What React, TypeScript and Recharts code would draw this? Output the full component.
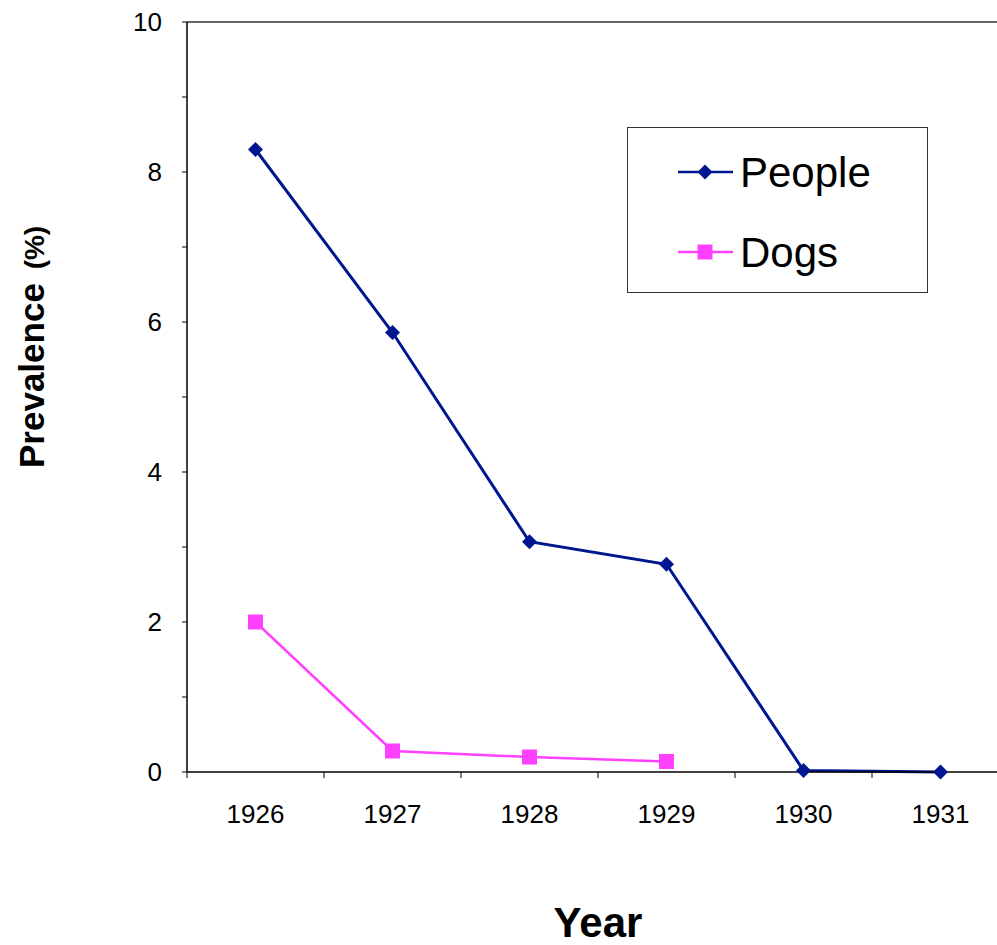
import React from 'react';
import { LineChart, Line, XAxis, YAxis, Legend, ReferenceLine } from 'recharts';

const years = ['1926', '1927', '1928', '1929', '1930', '1931'];
const people = [8.3, 5.86, 3.07, 2.77, 0.02, 0.0];
const dogs: (number | null)[] = [2.0, 0.28, 0.2, 0.14, null, null];
const yTicks = [0, 1, 2, 3, 4, 5, 6, 7, 8, 9, 10];

const NAVY = '#001590';
const PINK = '#ff40ff';

const data = years.map((year, i) => ({
  x: i + 0.5,
  year,
  people: people[i],
  dogs: dogs[i],
}));

const bounds = years.map((_, i) => i).concat([years.length]);
const centers = years.map((_, i) => i + 0.5);

const Diamond = (props: any) => {
  const { cx, cy, fill } = props;
  if (cx == null || cy == null || props.value == null) return null;
  const r = 7.5;
  return <path d={`M${cx},${cy - r}L${cx + r},${cy}L${cx},${cy + r}L${cx - r},${cy}Z`} fill={fill} />;
};

const Square = (props: any) => {
  const { cx, cy, fill } = props;
  if (cx == null || cy == null || props.value == null) return null;
  return <rect x={cx - 7.5} y={cy - 7.5} width={15} height={15} fill={fill} />;
};

const LegendBox = () => (
  <svg width={301} height={166} style={{ display: 'block' }}>
    <rect x={0.5} y={0.5} width={300} height={165} fill="#fff" stroke="#333" />
    <line x1={51} x2={106} y1={45} y2={45} stroke={NAVY} strokeWidth={2.5} />
    <Diamond cx={78} cy={45} fill={NAVY} value={1} />
    <text x={113} y={60} fontSize={42} fontFamily="Liberation Sans, Arial, sans-serif" fill="#000">People</text>
    <line x1={51} x2={106} y1={125} y2={125} stroke={PINK} strokeWidth={2.5} />
    <Square cx={78} cy={125} fill={PINK} value={1} />
    <text x={113} y={140} fontSize={42} fontFamily="Liberation Sans, Arial, sans-serif" fill="#000">Dogs</text>
  </svg>
);

export default function App() {
  const font = 'Liberation Sans, Arial, sans-serif';
  return (
    <div style={{ position: 'absolute', left: 0, top: 0, width: 997, height: 945, overflow: 'hidden', background: '#fff' }}>
      <LineChart width={1015} height={945} data={data} margin={{ top: 22, right: 6, left: 0, bottom: 107 }}>
        <XAxis
          xAxisId="a"
          type="number"
          dataKey="x"
          domain={[0, years.length]}
          ticks={bounds}
          tickFormatter={() => ''}
          tickSize={6}
          height={6}
          axisLine={{ stroke: '#000', strokeWidth: 1.5 }}
          tickLine={{ stroke: '#000' }}
        />
        <XAxis
          xAxisId="b"
          type="number"
          dataKey="x"
          domain={[0, years.length]}
          ticks={centers}
          tickFormatter={(v: number) => years[Math.floor(v)]}
          axisLine={false}
          tickLine={false}
          tickSize={0}
          tickMargin={27}
          height={60}
          tick={{ fill: '#000', fontSize: 26, fontFamily: font }}
        />
        <YAxis
          type="number"
          domain={[0, 10]}
          ticks={yTicks}
          interval={0}
          width={187}
          tickSize={5}
          tickMargin={20}
          tickFormatter={(v: number) => (v % 2 === 0 ? String(v) : '')}
          axisLine={{ stroke: '#000', strokeWidth: 1.5 }}
          tickLine={{ stroke: '#000' }}
          tick={{ fill: '#000', fontSize: 26, fontFamily: font }}
        />
        <ReferenceLine y={10} xAxisId="a" stroke="#333" strokeWidth={1.5} />
        <Legend
          layout="vertical"
          align="center"
          verticalAlign="middle"
          content={() => <LegendBox />}
          wrapperStyle={{ position: 'absolute', left: 627, top: 127, width: 301, height: 166 }}
        />
        <Line
          xAxisId="a"
          dataKey="people"
          name="People"
          stroke={NAVY}
          strokeWidth={3}
          dot={<Diamond fill={NAVY} />}
          activeDot={false}
          isAnimationActive={false}
        />
        <Line
          xAxisId="a"
          dataKey="dogs"
          name="Dogs"
          stroke={PINK}
          strokeWidth={2.5}
          dot={<Square fill={PINK} />}
          activeDot={false}
          isAnimationActive={false}
        />
        <text x={44} y={468} transform="rotate(-90 44 468)" fontFamily={font} fontWeight="bold" fill="#000">
          <tspan fontSize={35}>Prevalence</tspan>
          <tspan fontSize={28} dx={6}> (%)</tspan>
        </text>
        <text x={598} y={937} textAnchor="middle" fontFamily={font} fontWeight="bold" fontSize={42} fill="#000">
          Year
        </text>
      </LineChart>
    </div>
  );
}
